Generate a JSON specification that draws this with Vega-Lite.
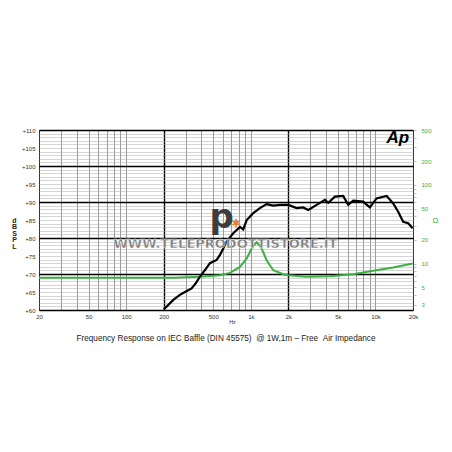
{
  "$schema": "https://vega.github.io/schema/vega-lite/v6.json",
  "width": 374,
  "height": 180,
  "autosize": {"type": "none"},
  "padding": {"left": 39, "top": 130, "right": 39, "bottom": 142},
  "background": "white",
  "config": {"view": {"stroke": "#000", "strokeWidth": 1}, "font": "Liberation Sans"},
  "title": {"text": "Frequency Response on IEC Baffle (DIN 45575) \u00a0@ 1W,1m – Free \u00a0Air Impedance", "orient": "bottom", "anchor": "middle", "fontSize": 8.2, "fontWeight": "normal", "color": "#222", "offset": 10, "font": "Liberation Sans"},
  "datasets": {
    "spl": [
      {"f": 200, "db": 60.2}, {"f": 212, "db": 61.0}, {"f": 239, "db": 62.8}, {"f": 270, "db": 64.2}, {"f": 296, "db": 65.0},
      {"f": 335, "db": 66.0}, {"f": 363, "db": 67.5}, {"f": 391, "db": 69.3}, {"f": 429, "db": 71.1}, {"f": 470, "db": 73.0},
      {"f": 532, "db": 73.9}, {"f": 566, "db": 75.3}, {"f": 601, "db": 77.1}, {"f": 640, "db": 79.0}, {"f": 723, "db": 81.3},
      {"f": 819, "db": 83.1}, {"f": 869, "db": 82.4}, {"f": 927, "db": 85.0}, {"f": 1046, "db": 86.9}, {"f": 1183, "db": 88.3},
      {"f": 1339, "db": 89.4}, {"f": 1514, "db": 89.0}, {"f": 1713, "db": 89.2}, {"f": 1997, "db": 89.2}, {"f": 2333, "db": 88.3},
      {"f": 2631, "db": 88.5}, {"f": 2890, "db": 87.8}, {"f": 3374, "db": 89.2}, {"f": 3934, "db": 90.6}, {"f": 4180, "db": 89.8},
      {"f": 4731, "db": 91.5}, {"f": 5510, "db": 91.7}, {"f": 6045, "db": 89.2}, {"f": 6627, "db": 90.4}, {"f": 7967, "db": 90.1},
      {"f": 9017, "db": 88.5}, {"f": 10200, "db": 91.0}, {"f": 12278, "db": 91.7}, {"f": 13870, "db": 89.6}, {"f": 15210, "db": 87.3},
      {"f": 16680, "db": 84.5}, {"f": 18300, "db": 84.1}, {"f": 19860, "db": 82.7}
    ],
    "imp": [
      {"f": 20, "ohm": 6.57}, {"f": 60, "ohm": 6.57}, {"f": 150, "ohm": 6.57}, {"f": 246, "ohm": 6.6}, {"f": 391, "ohm": 6.8},
      {"f": 566, "ohm": 7.1}, {"f": 681, "ohm": 7.6}, {"f": 819, "ohm": 9.06}, {"f": 927, "ohm": 11.6}, {"f": 1016, "ohm": 15.5},
      {"f": 1060, "ohm": 17.1}, {"f": 1114, "ohm": 18.6}, {"f": 1170, "ohm": 17.1}, {"f": 1222, "ohm": 15.5}, {"f": 1339, "ohm": 11.0},
      {"f": 1514, "ohm": 8.2}, {"f": 1820, "ohm": 7.3}, {"f": 1997, "ohm": 7.1}, {"f": 2805, "ohm": 6.76}, {"f": 4315, "ohm": 6.9},
      {"f": 6627, "ohm": 7.3}, {"f": 9592, "ohm": 8.06}, {"f": 13870, "ohm": 8.9}, {"f": 19860, "ohm": 10.0}
    ]
  },
  "layer": [
    {
      "data": {"name": "imp"},
      "mark": {"type": "line", "color": "#3cb043", "strokeWidth": 2},
      "encoding": {
        "x": {
          "field": "f", "type": "quantitative",
          "scale": {"type": "log", "domain": [20, 20000], "nice": false},
          "axis": {
            "values": [20, 30, 40, 50, 60, 70, 80, 90, 100, 200, 300, 400, 500, 600, 700, 800, 900, 1000, 2000, 3000, 4000, 5000, 6000, 7000, 8000, 9000, 10000, 20000],
            "labelExpr": "indexof([20,50,100,200,500], datum.value) >= 0 ? '' + datum.value : (indexof([1000,2000,5000,10000,20000], datum.value) >= 0 ? (datum.value/1000) + 'k' : '')",
            "labelOverlap": false, "labelFlush": false, "labelBound": false,
            "labelFontSize": 6, "labelColor": "#333", "labelPadding": 3,
            "ticks": false, "domain": false,
            "grid": true,
            "gridColor": {"condition": {"test": "datum.value === 200 || datum.value === 2000", "value": "#000"}, "value": "#555"},
            "gridWidth": {"condition": {"test": "datum.value === 200 || datum.value === 2000", "value": 1.4}, "value": 0.6},
            "title": "Hz", "titleFontSize": 5.5, "titleFontWeight": "normal", "titleColor": "#333",
            "titleX": 193, "titleY": 11, "titleBaseline": "middle"
          }
        },
        "y": {
          "field": "ohm", "type": "quantitative",
          "scale": {"type": "log", "domain": [2.56, 500], "nice": false},
          "axis": {
            "orient": "right", "grid": false, "domain": false,
            "values": [3, 4, 5, 6, 7, 8, 9, 10, 20, 30, 40, 50, 60, 70, 80, 90, 100, 200, 300, 400, 500],
            "labelExpr": "indexof([3,5,10,20,50,100,200,500], datum.value) >= 0 ? '' + datum.value : ''",
            "labelOverlap": false, "labelFlush": false, "labelBound": false,
            "labelColor": "#3cb043", "labelFontSize": 6, "labelPadding": 5,
            "ticks": true, "tickSize": 3, "tickColor": "#999", "tickWidth": 0.6,
            "title": "Ω", "titleColor": "#3cb043", "titleAngle": 0, "titleFontSize": 8, "titleFontWeight": "normal",
            "titleX": 22, "titleY": 90, "titleBaseline": "middle", "titleAlign": "center"
          }
        }
      }
    },
    {
      "data": {"name": "spl"},
      "mark": {"type": "line", "color": "#000", "strokeWidth": 2.2},
      "encoding": {
        "x": {"field": "f", "type": "quantitative"},
        "y": {
          "field": "db", "type": "quantitative",
          "scale": {"domain": [60, 110], "nice": false, "zero": false},
          "axis": {
            "orient": "left",
            "values": [60,61,62,63,64,65,66,67,68,69,70,71,72,73,74,75,76,77,78,79,80,81,82,83,84,85,86,87,88,89,90,91,92,93,94,95,96,97,98,99,100,101,102,103,104,105,106,107,108,109,110],
            "labelExpr": "datum.value % 5 === 0 ? '+' + datum.value : ''",
            "labelOverlap": false, "labelFlush": false, "labelBound": false,
            "labelFontSize": 6, "labelColor": "#333", "labelPadding": 4,
            "ticks": false, "domain": false,
            "grid": true,
            "gridColor": {"condition": {"test": "datum.value % 10 === 0", "value": "#000"}, "value": "#aaa"},
            "gridWidth": {"condition": {"test": "datum.value % 10 === 0", "value": 1.3}, "value": 0.5},
            "title": ["d", "B", "", "S", "P", "L"], "titleAngle": 0, "titleFontSize": 7, "titleFontWeight": "bold",
            "titleLineHeight": 6.5, "titleX": -25, "titleY": 90, "titleBaseline": "middle", "titleAlign": "center", "titleColor": "#222"
          }
        }
      }
    },
    {
      "data": {"values": [{"f": 583, "db": 85.5, "t": "p"}]},
      "mark": {"type": "text", "font": "DejaVu Sans", "fontWeight": "bold", "fontSize": 34, "color": "#3d3d3d", "baseline": "middle"},
      "encoding": {"x": {"field": "f", "type": "quantitative"}, "y": {"field": "db", "type": "quantitative", "scale": {"domain": [60, 110], "nice": false, "zero": false}, "axis": null}, "text": {"field": "t"}}
    },
    {
      "data": {"values": [{"f": 760, "db": 83.8, "t": "✱"}]},
      "mark": {"type": "text", "font": "DejaVu Sans", "fontSize": 11, "color": "#e8802e", "baseline": "middle"},
      "encoding": {"x": {"field": "f", "type": "quantitative"}, "y": {"field": "db", "type": "quantitative", "scale": {"domain": [60, 110], "nice": false, "zero": false}, "axis": null}, "text": {"field": "t"}}
    },
    {
      "data": {"values": [{"f": 15130, "db": 107.9, "t": "Ap"}]},
      "mark": {"type": "text", "font": "Liberation Sans", "fontWeight": "bold", "fontStyle": "italic", "fontSize": 17, "color": "#000", "baseline": "middle"},
      "encoding": {"x": {"field": "f", "type": "quantitative"}, "y": {"field": "db", "type": "quantitative", "scale": {"domain": [60, 110], "nice": false, "zero": false}, "axis": null}, "text": {"field": "t"}}
    },
    {
      "data": {"values": [{"f": 626, "db": 78.3, "t": "WWW.TELEPRODOTTISTORE.IT"}]},
      "mark": {"type": "text", "font": "DejaVu Sans", "fontWeight": "bold", "fontSize": 13, "color": "#7a7a7a", "stroke": "#ffffff", "strokeWidth": 0.4, "baseline": "middle"},
      "encoding": {"x": {"field": "f", "type": "quantitative"}, "y": {"field": "db", "type": "quantitative", "scale": {"domain": [60, 110], "nice": false, "zero": false}, "axis": null}, "text": {"field": "t"}}
    }
  ],
  "resolve": {"scale": {"y": "independent"}, "axis": {"y": "independent"}}
}
